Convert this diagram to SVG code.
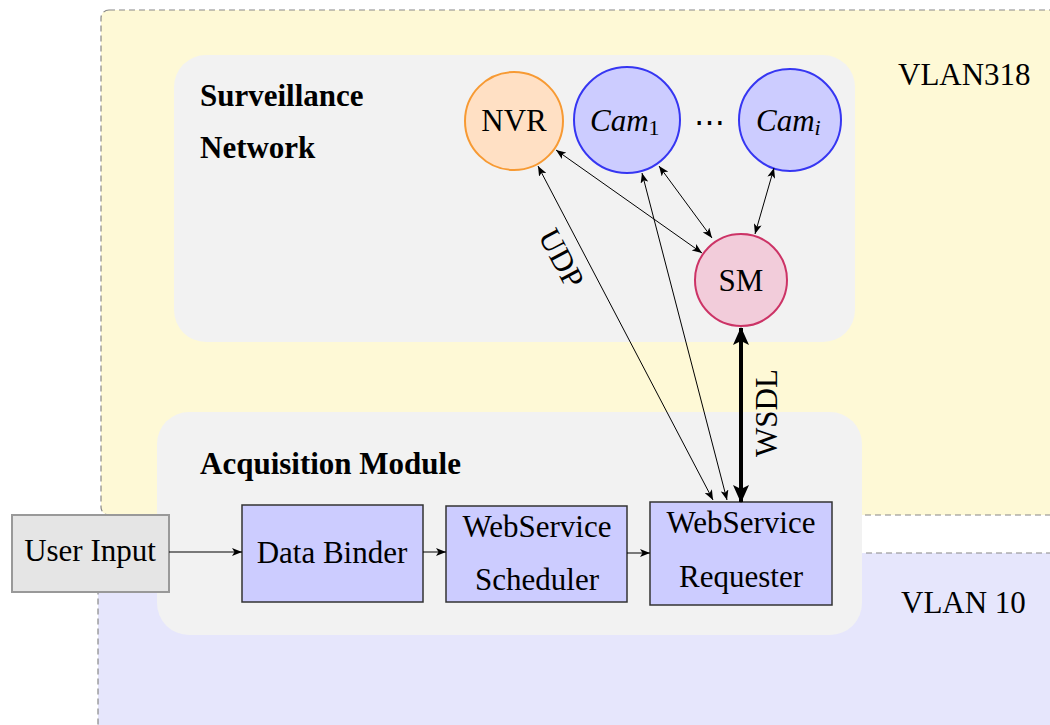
<svg xmlns="http://www.w3.org/2000/svg" width="1050" height="725" viewBox="0 0 1050 725">
<defs>
<style>
.t{font-family:"Liberation Serif","Times New Roman",serif;font-size:31px;fill:#000}
.b{font-weight:bold}
.i{font-style:italic}
.vlan{stroke:#888;stroke-width:1.2;stroke-dasharray:6 4}
.panel{fill:#f2f2f2}
.box{fill:#ccccff;stroke:#333;stroke-width:1.5}
.c{stroke:#000;stroke-width:1;fill:none}
.thick{stroke:#000;stroke-width:4;fill:none}
</style>
<marker id="ah" viewBox="0 0 10 8" refX="10" refY="4" markerWidth="10" markerHeight="8" markerUnits="userSpaceOnUse" orient="auto-start-reverse">
<path d="M0,0 L10,4 L0,8 L2.5,4 Z" fill="#000"/>
</marker>
<marker id="ahT" viewBox="0 0 18 16" refX="17" refY="8" markerWidth="18" markerHeight="16" markerUnits="userSpaceOnUse" orient="auto-start-reverse">
<path d="M0,0 L18,8 L0,16 L4,8 Z" fill="#000"/>
</marker>
</defs>

<g id="vlan318">
<rect x="101" y="10" width="1000" height="505" rx="8" fill="#fef9d6" class="vlan"/>
<text class="t" x="898" y="85">VLAN318</text>
</g>
<g id="vlan10">
<rect x="98" y="553" width="1000" height="200" rx="8" fill="#e6e6fc" class="vlan"/>
<text class="t" x="901" y="613">VLAN 10</text>
</g>

<g id="surveillance-network">
<rect class="panel" x="174" y="55" width="681" height="287" rx="32"/>
<text class="t b" x="200" y="106">Surveillance</text>
<text class="t b" x="200" y="158">Network</text>
</g>
<g id="acquisition-module">
<rect class="panel" x="157" y="412" width="705" height="223" rx="32"/>
<text class="t b" x="200" y="474">Acquisition Module</text>
</g>

<g id="nvr">
<circle cx="514" cy="121" r="49" fill="#ffe0c4" stroke="#f79a33" stroke-width="2"/>
<text class="t" x="514" y="131" text-anchor="middle">NVR</text>
</g>
<g id="cam1">
<circle cx="627" cy="120" r="53" fill="#ccccff" stroke="#3636f2" stroke-width="2"/>
<text class="t" x="590" y="131"><tspan class="i">Cam</tspan><tspan font-size="22" dy="4">1</tspan></text>
</g>
<g id="dots">
<text class="t" x="709" y="133" text-anchor="middle">⋯</text>
</g>
<g id="cami">
<circle cx="790" cy="120" r="51" fill="#ccccff" stroke="#3636f2" stroke-width="2"/>
<text class="t" x="756" y="131"><tspan class="i">Cam</tspan><tspan class="i" font-size="22" dy="4">i</tspan></text>
</g>
<g id="sm">
<circle cx="741" cy="280" r="46" fill="#f2ccda" stroke="#cc3366" stroke-width="2"/>
<text class="t" x="741" y="291" text-anchor="middle">SM</text>
</g>

<g id="user-input">
<rect x="12" y="515" width="157" height="77" fill="#e5e5e5" stroke="#999" stroke-width="2"/>
<text class="t" x="90" y="561" text-anchor="middle">User Input</text>
</g>
<g id="data-binder">
<rect class="box" x="242" y="505" width="181" height="97"/>
<text class="t" x="332" y="563" text-anchor="middle">Data Binder</text>
</g>
<g id="ws-scheduler">
<rect class="box" x="446" y="506" width="181" height="96"/>
<text class="t" x="537" y="537" text-anchor="middle">WebService</text>
<text class="t" x="537" y="590" text-anchor="middle">Scheduler</text>
</g>
<g id="ws-requester">
<rect class="box" x="650" y="502" width="182" height="103"/>
<text class="t" x="741" y="533" text-anchor="middle">WebService</text>
<text class="t" x="741" y="587" text-anchor="middle">Requester</text>
</g>

<g id="connectors">
<line class="c" x1="169" y1="552" x2="242" y2="552" marker-end="url(#ah)"/>
<line class="c" x1="423" y1="552" x2="446" y2="552" marker-end="url(#ah)"/>
<line class="c" x1="627" y1="553" x2="650" y2="553" marker-end="url(#ah)"/>
<line class="c" x1="556" y1="150" x2="702" y2="253" marker-start="url(#ah)" marker-end="url(#ah)"/>
<line class="c" x1="659" y1="166" x2="712" y2="238" marker-start="url(#ah)" marker-end="url(#ah)"/>
<line class="c" x1="774" y1="168" x2="755" y2="234" marker-start="url(#ah)" marker-end="url(#ah)"/>
<line class="c" x1="538" y1="166" x2="713" y2="500" marker-start="url(#ah)" marker-end="url(#ah)"/>
<line class="c" x1="642" y1="173" x2="727" y2="500" marker-start="url(#ah)" marker-end="url(#ah)"/>
<line class="thick" x1="741" y1="328" x2="741" y2="502" marker-start="url(#ahT)" marker-end="url(#ahT)"/>
<text class="t" transform="translate(562,258) rotate(62)" x="0" y="11" text-anchor="middle">UDP</text>
<text class="t" transform="translate(766,413) rotate(-90)" x="0" y="11" text-anchor="middle">WSDL</text>
</g>
</svg>
